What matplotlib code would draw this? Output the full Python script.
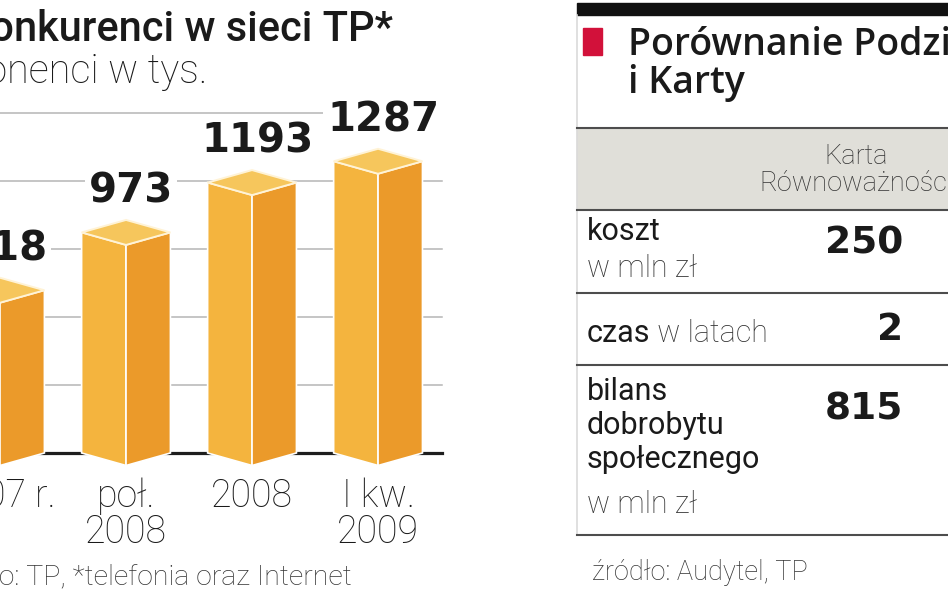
import matplotlib.pyplot as plt
from matplotlib.patches import Polygon, Rectangle

W, H = 948, 593

# chart data
periods = ['2007 r.', 'poł.\n2008', '2008', 'I kw.\n2009']
subscribers = [718, 973, 1193, 1287]
grid_levels = [0, 300, 600, 900, 1200, 1500]

# table data
col_header = 'Karta\nRównoważności'
row_labels = ['koszt', 'czas', 'bilans\ndobrobytu\nspołecznego']
row_units = ['w mln zł', 'w latach', 'w mln zł']
card_values = [250, 2, 815]

plt.rcParams['font.family'] = ['Roboto', 'DejaVu Sans']

fig = plt.figure(figsize=(W / 100, H / 100), dpi=100)
fig.patch.set_facecolor('white')


def fx(px):
    return px / W


def fy(py):
    return 1 - py / H


# ---- bar chart (left) ----
ax_bot, ax_top = 480, 90
ax = fig.add_axes([0, fy(ax_bot), fx(450), (ax_bot - ax_top) / H])
upp = 1500 / 340          # value units per pixel
step = 127.7              # pixels per category
ax.set_ylim(-(ax_bot - 453) * upp, (453 - ax_top) * upp)
ax.set_xlim(6 / step, 456 / step)
ax.set_frame_on(False)
ax.set_yticks([])
ax.set_xticks(range(len(periods)))
ax.set_xticklabels(periods, fontsize=27, fontweight='light', linespacing=0.95, color='#1a1a1a')
ax.tick_params(axis='x', length=0, pad=-2)

x_end = 448 / step
for g in grid_levels:
    if g == 0:
        ax.plot([ax.get_xlim()[0], x_end], [g, g], color='#1e1e1e', lw=2.3, zorder=1)
    else:
        ax.plot([ax.get_xlim()[0], x_end], [g, g], color='#b5b5b5', lw=1.1, zorder=1)

w = 45 / step
d = 12.5 * upp
for i, v in enumerate(subscribers):
    left = [(i - w, 0), (i, -d), (i, v - d), (i - w, v)]
    right = [(i, -d), (i + w, 0), (i + w, v), (i, v - d)]
    top = [(i - w, v), (i, v - d), (i + w, v), (i, v + d)]
    ax.add_patch(Polygon(left, closed=True, fc='#F4B43E', ec='white', lw=1.2, zorder=2))
    ax.add_patch(Polygon(right, closed=True, fc='#EB9A2A', ec='white', lw=1.2, zorder=2))
    ax.add_patch(Polygon(top, closed=True, fc='#F6C65C', ec='#FFF3D6', lw=1.4, zorder=2))
    ax.text(i + 0.04, v + 41 * upp, str(v), ha='center', va='center', fontsize=29,
            fontweight='bold', family='DejaVu Sans', color='#1a1a1a', zorder=3,
            bbox=dict(fc='white', ec='none', pad=3))

fig.text(fx(393), fy(41), 'Konkurenci w sieci TP*', ha='right', va='baseline',
         fontsize=30, fontweight='medium', color='#1a1a1a')
fig.text(fx(207), fy(83), 'Abonenci w tys.', ha='right', va='baseline',
         fontsize=28.5, fontweight='light', color='#1a1a1a')
fig.text(fx(352), fy(585), 'Źródło: TP, *telefonia oraz Internet', ha='right', va='baseline',
         fontsize=20.5, fontweight='light', color='#333333')

# ---- table (right) ----
tb = fig.add_axes([0, 0, 1, 1])
tb.set_xlim(0, W)
tb.set_ylim(H, 0)
tb.axis('off')
tb.patch.set_alpha(0)

x0, x1 = 577, W
tb.plot([x0, x0], [15, 535], color='#dadada', lw=1.2)
tb.add_patch(Rectangle((x0, 3), x1 - x0, 12, color='#111111'))
tb.add_patch(Rectangle((583, 28), 19, 27, color='#D2113A'))
tb.text(628, 55, 'Porównanie Podziału', fontsize=27, fontweight='semibold', family='Open Sans',
        color='#1a1a1a', va='baseline')
tb.text(628, 93, 'i Karty', fontsize=27, fontweight='semibold', family='Open Sans',
        color='#1a1a1a', va='baseline')

tb.add_patch(Rectangle((x0, 129), x1 - x0, 80, color='#E0DFD9'))
for yl in [128, 210, 293, 365, 535]:
    tb.plot([x0, x1], [yl, yl], color='#4d4d4d', lw=1.5)
tb.text(856, 170, col_header, ha='center', va='center', fontsize=19.5, fontweight='light',
        linespacing=1.0, color='#333333')

# row 1
tb.text(587, 240, row_labels[0], fontsize=22, color='#1a1a1a', va='baseline')
tb.text(587, 277, row_units[0], fontsize=22, fontweight='light', color='#333333', va='baseline')
# row 2
t = tb.text(587, 342, row_labels[1], fontsize=22, color='#1a1a1a', va='baseline')
tb.annotate(' ' + row_units[1], xy=(1, 0), xycoords=t, va='bottom', ha='left',
            fontsize=22, fontweight='light', color='#333333')
# row 3
for j, line in enumerate(row_labels[2].split('\n')):
    tb.text(587, 400 + 34 * j, line, fontsize=22, color='#1a1a1a', va='baseline')
tb.text(587, 513, row_units[2], fontsize=22, fontweight='light', color='#333333', va='baseline')

for yv, val in zip([243, 330, 409], card_values):
    tb.text(903, yv, str(val), ha='right', va='center', fontsize=27, fontweight='bold',
            family='DejaVu Sans', color='#1a1a1a')

tb.text(592, 580, 'źródło: Audytel, TP', fontsize=19.5, fontweight='light', color='#333333', va='baseline')

fig.savefig('out.png', dpi=100)
